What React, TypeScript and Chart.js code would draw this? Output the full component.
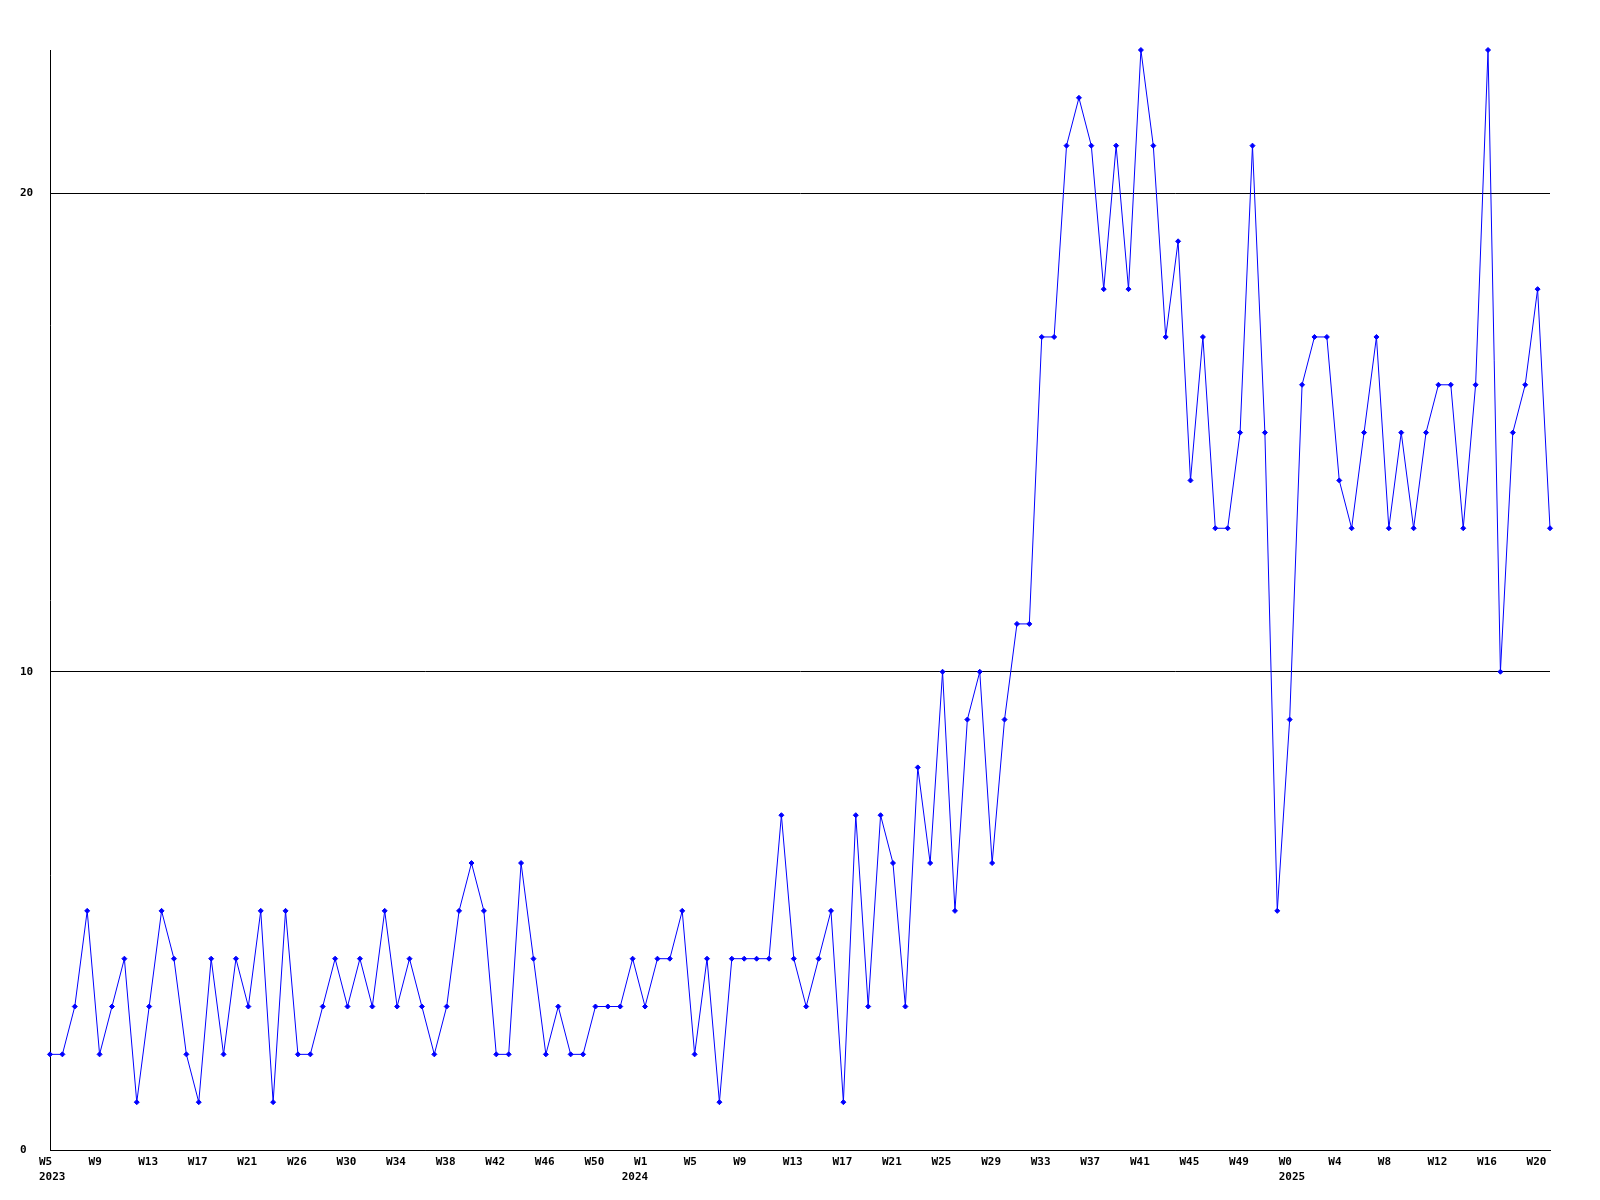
import React, { useEffect, useRef } from "react";
import { Chart, registerables } from "chart.js";

Chart.register(...registerables);

// Weekly values, W5 2023 .. W21 2025 (122 weeks)
const values: number[] = [
  2, 2, 3, 5, 2, 3, 4, 1, 3, 5, 4, 2, 1, 4, 2, 4, 3, 5, 1, 5, 2, 2, 3, 4, 3, 4, 3, 5, 3, 4, 3, 2, 3, 5, 6, 5, 2, 2, 6, 4, 2,
  3, 2, 2, 3, 3, 3, 4, 3, 4, 4, 5, 2, 4, 1, 4, 4, 4, 4, 7, 4, 3, 4, 5, 1, 7, 3, 7, 6, 3, 8, 6, 10, 5, 9, 10, 6, 9, 11, 11,
  17, 17, 21, 22, 21, 18, 21, 18, 23, 21, 17, 19, 14, 17, 13, 13, 15, 21, 15, 5, 9, 16, 17, 17, 14, 13, 15, 17, 13, 15,
  13, 15, 16, 16, 13, 16, 23, 10, 15, 16, 18, 13,
];

// Tick labels shown every 4th week
const tickLabels: string[] = [
  "W5", "W9", "W13", "W17", "W21", "W26", "W30", "W34", "W38", "W42", "W46", "W50",
  "W1", "W5", "W9", "W13", "W17", "W21", "W25", "W29", "W33", "W37", "W41", "W45", "W49",
  "W0", "W4", "W8", "W12", "W16", "W20",
];
const tickStep = 4;

// Year labels and the week index they sit under
const yearLabels: string[] = ["2023", "2024", "2025"];
const yearIndices: number[] = [0, 47, 100];

const yTicks: number[] = [0, 10, 20];
const yMax = 23;

export default function App() {
  const ref = useRef<HTMLCanvasElement | null>(null);

  useEffect(() => {
    if (!ref.current) return;
    document.body.style.margin = "0";
    const font = { family: "'DejaVu Sans Mono', monospace", size: 11, weight: "bold" as const, lineHeight: 1.36 };
    const categories = values.map((_, i) => String(i));
    const chart = new Chart(ref.current, {
      type: "line",
      data: {
        labels: categories,
        datasets: [
          {
            data: values,
            borderColor: "#0000ff",
            backgroundColor: "#0000ff",
            borderWidth: 1,
            pointStyle: "rectRot",
            pointRadius: 2.5,
            pointBorderWidth: 1,
            pointBorderColor: "#0000ff",
            pointBackgroundColor: "#0000ff",
            tension: 0,
            fill: false,
            clip: false as any,
          },
        ],
      },
      options: {
        responsive: false,
        animation: false,
        layout: { padding: { left: 20, right: 50, top: 50, bottom: 0 } },
        plugins: { legend: { display: false }, tooltip: { enabled: false }, title: { display: false } },
        scales: {
          x: {
            type: "category",
            offset: false,
            grid: { display: false, drawTicks: false },
            border: { display: true, color: "#000000", width: 1 },
            ticks: {
              autoSkip: false,
              maxRotation: 0,
              minRotation: 0,
              align: "start",
              labelOffset: -11,
              padding: 5,
              color: "#000000",
              font,
              callback: (_v: any, index: number) => {
                const lines: string[] = [];
                const yi = yearIndices.indexOf(index);
                const week = index % tickStep === 0 ? tickLabels[index / tickStep] ?? "" : "";
                if (yi >= 0) return [week, yearLabels[yi]];
                if (week) lines.push(week);
                return lines.length ? lines[0] : "";
              },
            },
            afterFit: (scale: any) => {
              scale.height = 50;
            },
          },
          y: {
            min: 0,
            max: yMax,
            grid: { display: true, color: "#000000", lineWidth: 1, drawTicks: false },
            border: { display: true, color: "#000000", width: 1 },
            ticks: {
              stepSize: 10,
              includeBounds: false,
              crossAlign: "far",
              padding: 0,
              color: "#000000",
              font,
              callback: (v: any) => (yTicks.includes(Number(v)) ? String(v) : ""),
            },
            afterFit: (scale: any) => {
              scale.width = 30;
            },
          },
        },
      },
    });
    return () => chart.destroy();
  }, []);

  return (
    <div style={{ position: "absolute", left: 0, top: 0, width: 1600, height: 1200, background: "#ffffff" }}>
      <canvas ref={ref} width={1600} height={1200} style={{ display: "block", width: 1600, height: 1200 }} />
    </div>
  );
}
